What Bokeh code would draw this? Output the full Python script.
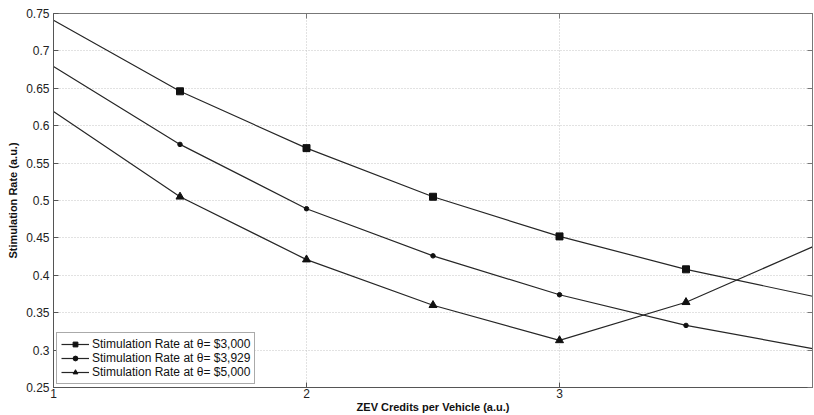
from bokeh.plotting import figure
from bokeh.models import (LinearAxis, FixedTicker, Range1d, Legend, LegendItem,
                          ColumnDataSource)
from bokeh.embed import file_html
from bokeh.resources import INLINE

# ---- data ----
x_vals = [1, 1.5, 2, 2.5, 3, 3.5, 4]
rate_3000 = [0.741, 0.646, 0.570, 0.505, 0.452, 0.408, 0.372]
rate_3929 = [0.679, 0.575, 0.489, 0.426, 0.374, 0.333, 0.302]
rate_5000 = [0.619, 0.505, 0.421, 0.360, 0.313, 0.364, 0.438]
marker_idx = [1, 2, 3, 4, 5]
labels = ["Stimulation Rate at \u03b8= $3,000",
          "Stimulation Rate at \u03b8= $3,929",
          "Stimulation Rate at \u03b8= $5,000"]
x_ticks = [1, 2, 3]
y_ticks = [0.25, 0.3, 0.35, 0.4, 0.45, 0.5, 0.55, 0.6, 0.65, 0.7, 0.75]
x_label = "ZEV Credits per Vehicle (a.u.)"
y_label = "Stimulation Rate (a.u.)"

FONT = "Liberation Sans"
TXT = "#222222"

p = figure(width=814, height=415, output_backend="svg", toolbar_location=None,
           x_range=Range1d(1, 4), y_range=Range1d(0.25, 0.75),
           min_border_left=53, min_border_right=2, min_border_top=13,
           min_border_bottom=28)
p.outline_line_color = "#666666"
p.background_fill_color = "white"
p.border_fill_color = "white"

# axes
for ax in (p.xaxis[0], p.yaxis[0]):
    ax.axis_line_color = "#555555"
    ax.major_tick_line_color = "#555555"
    ax.major_tick_in = 5
    ax.major_tick_out = 0
    ax.minor_tick_line_color = None
    ax.major_label_text_font = FONT
    ax.major_label_text_font_size = "12px"
    ax.major_label_text_color = TXT
    ax.axis_label_text_font = FONT
    ax.axis_label_text_font_size = "11px"
    ax.axis_label_text_font_style = "bold"
    ax.axis_label_text_color = "#111111"

p.xaxis[0].ticker = FixedTicker(ticks=x_ticks)
p.yaxis[0].ticker = FixedTicker(ticks=y_ticks)
p.xaxis[0].axis_label = x_label
p.yaxis[0].axis_label = y_label
p.xaxis[0].major_label_standoff = 1
p.xaxis[0].axis_label_standoff = 0
p.yaxis[0].major_label_standoff = 4
p.yaxis[0].axis_label_standoff = 4

# mirrored axes (box with ticks), labels not drawn
for loc, ticks in (("right", y_ticks), ("above", x_ticks)):
    ax = LinearAxis(ticker=FixedTicker(ticks=ticks), major_label_text_font_size="2px",
                    major_label_text_color=None, major_tick_in=5, major_tick_out=0,
                    minor_tick_line_color=None, axis_line_color="#777777",
                    major_tick_line_color="#777777", major_label_standoff=0)
    p.add_layout(ax, loc)

# grid
p.xgrid.ticker = FixedTicker(ticks=x_ticks)
p.ygrid.ticker = FixedTicker(ticks=y_ticks)
for g in (p.xgrid[0], p.ygrid[0]):
    g.grid_line_color = "#c4c4c4"
    g.grid_line_dash = "1 2"
    g.grid_line_width = 1

series = [(rate_3000, "square", 7), (rate_3929, "circle", 4.5), (rate_5000, "triangle", 8)]
items = []
for (ys, mk, sz), lab in zip(series, labels):
    src = ColumnDataSource(dict(x=x_vals, y=ys))
    ln = p.line("x", "y", source=src, line_color="#262626", line_width=1.2)
    msrc = ColumnDataSource(dict(x=[x_vals[i] for i in marker_idx],
                                 y=[ys[i] for i in marker_idx]))
    sc = p.scatter("x", "y", source=msrc, marker=mk, size=sz,
                   fill_color="#111111", line_color="#111111")
    items.append(LegendItem(label=lab, renderers=[ln, sc]))

legend = Legend(items=items, location=(3, 3))
legend.label_text_font = FONT
legend.label_text_font_size = "12px"
legend.label_text_color = "#111111"
legend.glyph_width = 28
legend.glyph_height = 12
legend.label_height = 12
legend.spacing = 0
legend.padding = 4
legend.margin = 0
legend.label_standoff = 3
legend.border_line_color = "#555555"
legend.border_line_width = 1
legend.background_fill_alpha = 1
p.add_layout(legend, "center")

open("out.html", "w").write(file_html(p, INLINE))
